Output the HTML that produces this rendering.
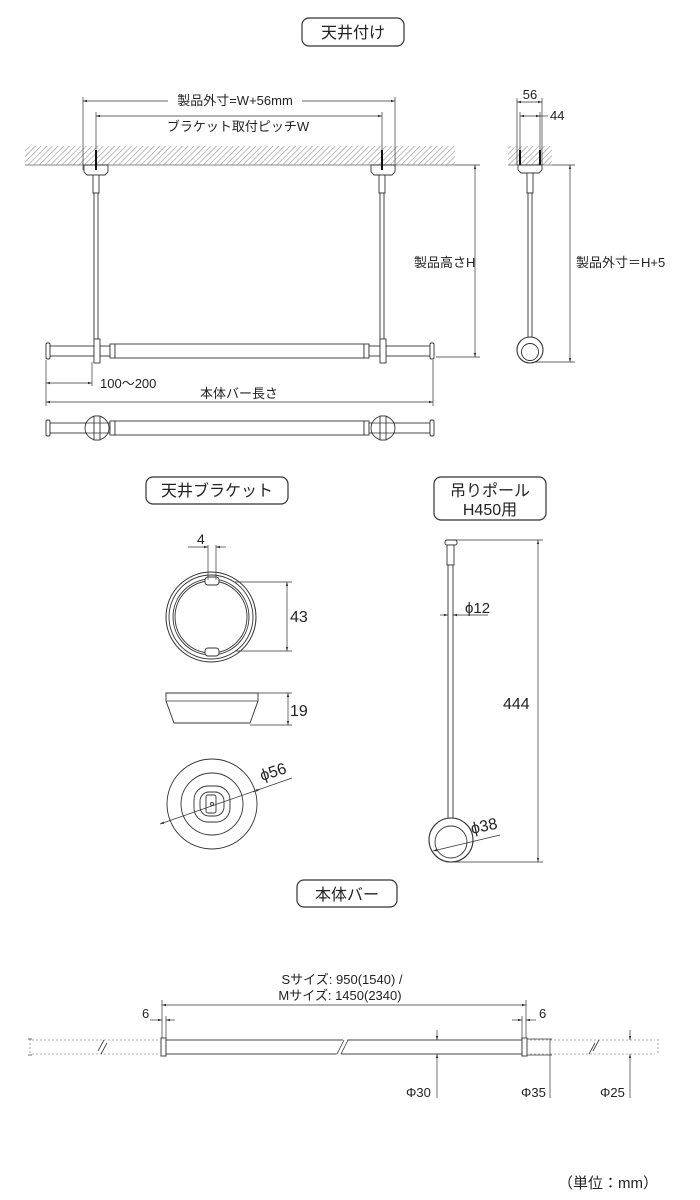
<!DOCTYPE html>
<html><head><meta charset="utf-8"><style>
html,body{margin:0;padding:0;background:#fff;}
svg{display:block;}
text{font-family:"Liberation Sans","Noto Sans CJK JP",sans-serif;fill:#222;}
</style></head><body>
<svg width="700" height="1200" viewBox="0 0 700 1200" xmlns="http://www.w3.org/2000/svg">
<defs>
<pattern id="h" width="4" height="4" patternUnits="userSpaceOnUse" patternTransform="rotate(45)">
<rect width="4" height="4" fill="#fff"/><line x1="0" y1="0" x2="0" y2="4" stroke="#999" stroke-width="1.3"/>
</pattern>
<marker id="a" viewBox="0 0 10 10" refX="10" refY="5" markerWidth="6" markerHeight="6" orient="auto-start-reverse"><path d="M0,2 L10,5 L0,8 z" fill="#333"/></marker>
<g id="bar">
 <rect x="46" y="343" width="4" height="16" rx="1.5" fill="#fff" stroke="#333"/>
 <rect x="50" y="346" width="44" height="10" fill="#fff" stroke="#333" stroke-width="0.9"/>
 <rect x="100" y="346" width="10" height="10" fill="#fff" stroke="#333" stroke-width="0.9"/>
 <rect x="110" y="344" width="5" height="14" fill="#fff" stroke="#333" stroke-width="0.9"/>
 <rect x="115" y="344" width="249" height="14" fill="#fff" stroke="#333" stroke-width="0.9"/>
 <rect x="364" y="344" width="5" height="14" fill="#fff" stroke="#333" stroke-width="0.9"/>
 <rect x="369" y="346" width="11" height="10" fill="#fff" stroke="#333" stroke-width="0.9"/>
 <rect x="386" y="346" width="44" height="10" fill="#fff" stroke="#333" stroke-width="0.9"/>
 <rect x="430" y="343" width="4" height="16" rx="1.5" fill="#fff" stroke="#333"/>
</g>
</defs>
<g fill="none" stroke="#333" stroke-width="0.9">

<rect x="302" y="18" width="102" height="28" rx="7" stroke-width="1.2"/>
<rect x="146" y="477" width="142" height="27" rx="7" stroke-width="1.2"/>
<rect x="434" y="477" width="112" height="43" rx="7" stroke-width="1.2"/>
<rect x="297" y="880" width="100" height="27" rx="7" stroke-width="1.2"/>

<rect x="25" y="146" width="430" height="19" fill="url(#h)" stroke="none"/>
<line x1="25" y1="165" x2="455" y2="165" stroke="#888"/>
<rect x="508" y="146" width="44" height="19" fill="url(#h)" stroke="none"/>
<line x1="508" y1="165" x2="552" y2="165" stroke="#888"/>

<line x1="83" y1="97" x2="83" y2="170" stroke-width="0.7"/>
<line x1="395" y1="97" x2="395" y2="170" stroke-width="0.7"/>
<line x1="96" y1="112" x2="96" y2="165" stroke-width="0.7"/>
<line x1="382" y1="112" x2="382" y2="165" stroke-width="0.7"/>
<line x1="83" y1="101" x2="168" y2="101" marker-start="url(#a)" stroke-width="0.7"/>
<line x1="302" y1="101" x2="395" y2="101" marker-end="url(#a)" stroke-width="0.7"/>
<line x1="96" y1="116" x2="382" y2="116" marker-start="url(#a)" marker-end="url(#a)" stroke-width="0.7"/>

<g fill="#fff">
<path d="M84,165 L108,165 L108,172 L105,175 L87,175 L84,172 Z"/>
<path d="M371,165 L395,165 L395,172 L392,175 L374,175 L371,172 Z"/>
<line x1="96" y1="150" x2="96" y2="170" stroke="#111" stroke-width="2"/>
<line x1="382" y1="150" x2="382" y2="170" stroke="#111" stroke-width="2"/>
<rect x="93" y="175" width="6" height="18"/>
<rect x="94" y="193" width="4" height="150"/>
<rect x="379" y="175" width="6" height="18"/>
<rect x="380" y="193" width="4" height="150"/>
</g>
<use href="#bar"/>
<rect x="94" y="339" width="6" height="24" fill="#fff"/>
<rect x="380" y="339" width="6" height="24" fill="#fff"/>

<line x1="455" y1="165" x2="480" y2="165" stroke-width="0.7"/>
<line x1="436" y1="357" x2="480" y2="357" stroke-width="0.7"/>
<line x1="475" y1="165" x2="475" y2="357" marker-start="url(#a)" marker-end="url(#a)" stroke-width="0.7"/>

<line x1="46" y1="360" x2="46" y2="406" stroke-width="0.7"/>
<line x1="92" y1="362" x2="92" y2="386" stroke-width="0.7"/>
<line x1="433" y1="360" x2="433" y2="406" stroke-width="0.7"/>
<line x1="46" y1="383" x2="92" y2="383" marker-start="url(#a)" marker-end="url(#a)" stroke-width="0.7"/>
<line x1="46" y1="402" x2="433" y2="402" marker-start="url(#a)" marker-end="url(#a)" stroke-width="0.7"/>

<use href="#bar" transform="translate(0,77)"/>
<circle cx="97" cy="428" r="12" fill="#fff"/>
<circle cx="383" cy="428" r="12" fill="#fff"/>
<rect x="94" y="416" width="6" height="24" fill="#fff"/>
<rect x="380" y="416" width="6" height="24" fill="#fff"/>
<line x1="85" y1="423" x2="109" y2="423" stroke-width="0.7"/>
<line x1="85" y1="433" x2="109" y2="433" stroke-width="0.7"/>
<line x1="371" y1="423" x2="395" y2="423" stroke-width="0.7"/>
<line x1="371" y1="433" x2="395" y2="433" stroke-width="0.7"/>

<line x1="517" y1="98" x2="517" y2="165" stroke-width="0.7"/>
<line x1="542" y1="98" x2="542" y2="165" stroke-width="0.7"/>
<line x1="520" y1="112" x2="520" y2="165" stroke-width="0.7"/>
<line x1="540" y1="112" x2="540" y2="165" stroke-width="0.7"/>
<line x1="517" y1="102" x2="542" y2="102" marker-start="url(#a)" marker-end="url(#a)" stroke-width="0.7"/>
<line x1="520" y1="116" x2="540" y2="116" marker-start="url(#a)" marker-end="url(#a)" stroke-width="0.7"/>
<line x1="540" y1="116" x2="548" y2="116" stroke-width="0.7"/>
<line x1="520" y1="150" x2="520" y2="165" stroke="#111" stroke-width="2"/>
<line x1="540" y1="150" x2="540" y2="165" stroke="#111" stroke-width="2"/>
<path d="M518,165 L542,165 L542,170 L539,173 L521,173 L518,170 Z" fill="#fff"/>
<rect x="527" y="173" width="6" height="20" fill="#fff"/>
<rect x="528" y="193" width="4" height="146" fill="#fff"/>
<circle cx="530" cy="350" r="13" fill="#fff" stroke-width="1.1"/>
<circle cx="530" cy="352" r="8.5" fill="#fff"/>
<line x1="552" y1="165" x2="575" y2="165" stroke-width="0.7"/>
<line x1="535" y1="362" x2="575" y2="362" stroke-width="0.7"/>
<line x1="570" y1="165" x2="570" y2="362" marker-start="url(#a)" marker-end="url(#a)" stroke-width="0.7"/>

<circle cx="211" cy="617" r="45" stroke-width="1"/>
<circle cx="211" cy="617" r="42"/>
<circle cx="211" cy="617" r="38"/>
<circle cx="211" cy="617" r="36"/>
<rect x="205" y="577" width="14" height="8" rx="3" fill="#fff"/>
<rect x="205" y="648" width="14" height="8" rx="3" fill="#fff"/>
<line x1="208" y1="545" x2="208" y2="580" stroke-width="0.7"/>
<line x1="216" y1="545" x2="216" y2="580" stroke-width="0.7"/>
<line x1="188" y1="547" x2="208" y2="547" marker-end="url(#a)" stroke-width="0.7"/>
<line x1="226" y1="547" x2="216" y2="547" marker-end="url(#a)" stroke-width="0.7"/>
<line x1="235" y1="582" x2="292" y2="582" stroke-width="0.7"/>
<line x1="235" y1="651" x2="292" y2="651" stroke-width="0.7"/>
<line x1="287" y1="582" x2="287" y2="651" marker-start="url(#a)" marker-end="url(#a)" stroke-width="0.7"/>

<path d="M166,693 L258,693 L258,701 L250,723 L174,723 L166,701 Z" fill="#fff"/>
<line x1="166" y1="701" x2="258" y2="701" stroke-width="0.7"/>
<line x1="258" y1="693" x2="292" y2="693" stroke-width="0.7"/>
<line x1="250" y1="725" x2="292" y2="725" stroke-width="0.7"/>
<line x1="288" y1="693" x2="288" y2="725" marker-start="url(#a)" marker-end="url(#a)" stroke-width="0.7"/>

<circle cx="212" cy="804" r="45"/>
<circle cx="212" cy="804" r="31"/>
<rect x="194" y="786" width="36" height="36" rx="14"/>
<rect x="200" y="792" width="24" height="24" rx="9"/>
<rect x="206" y="795" width="10" height="18" rx="2"/>
<circle cx="212" cy="804" r="1.5"/>
<line x1="160" y1="824" x2="292" y2="778" marker-start="url(#a)" stroke-width="0.7"/>
<path d="M253,792 L260,789" marker-end="url(#a)" stroke-width="0.7"/>

<rect x="445" y="540" width="12" height="5" rx="2" fill="#fff"/>
<rect x="447" y="545" width="7" height="20" fill="#fff"/>
<rect x="448" y="565" width="5" height="255" fill="#fff"/>
<circle cx="451" cy="840" r="22" fill="#fff" stroke-width="1.1"/>
<circle cx="451" cy="842" r="16" fill="#fff"/>
<line x1="440" y1="615" x2="448" y2="615" marker-end="url(#a)" stroke-width="0.7"/>
<line x1="453" y1="615" x2="488" y2="615" marker-start="url(#a)" stroke-width="0.7"/>
<line x1="455" y1="540" x2="543" y2="540" stroke-width="0.7"/>
<line x1="455" y1="862" x2="543" y2="862" stroke-width="0.7"/>
<line x1="538" y1="540" x2="538" y2="862" marker-start="url(#a)" marker-end="url(#a)" stroke-width="0.7"/>
<line x1="433" y1="851" x2="500" y2="835" marker-start="url(#a)" stroke-width="0.7"/>

<g stroke-dasharray="2,2" stroke-width="0.6" stroke="#666">
<line x1="32" y1="1040" x2="160" y2="1040"/>
<line x1="32" y1="1054" x2="160" y2="1054"/>
<line x1="530" y1="1040" x2="655" y2="1040"/>
<line x1="530" y1="1054" x2="655" y2="1054"/>
<line x1="30" y1="1039" x2="30" y2="1055"/>
<line x1="658" y1="1039" x2="658" y2="1055"/>
</g>
<line x1="28" y1="1039" x2="32" y2="1039" stroke-width="0.7"/>
<line x1="28" y1="1055" x2="32" y2="1055" stroke-width="0.7"/>
<rect x="161" y="1038" width="5" height="18" fill="#fff"/>
<rect x="166" y="1040" width="356" height="14" fill="#fff"/>
<rect x="522" y="1038" width="5" height="18" fill="#fff"/>
<line x1="98" y1="1051" x2="104" y2="1040" stroke-width="0.8"/>
<line x1="101" y1="1054" x2="107" y2="1043" stroke-width="0.8"/>
<line x1="338" y1="1056" x2="346" y2="1038" stroke="#fff" stroke-width="4"/>
<line x1="337" y1="1054" x2="344" y2="1040" stroke-width="0.8"/>
<line x1="341" y1="1054" x2="348" y2="1040" stroke-width="0.8"/>
<line x1="589" y1="1054" x2="595" y2="1043" stroke-width="0.8"/>
<line x1="593" y1="1051" x2="599" y2="1040" stroke-width="0.8"/>

<line x1="162" y1="1000" x2="162" y2="1038" stroke-width="0.7"/>
<line x1="526" y1="1000" x2="526" y2="1038" stroke-width="0.7"/>
<line x1="166" y1="1016" x2="166" y2="1038" stroke-width="0.7"/>
<line x1="522" y1="1016" x2="522" y2="1038" stroke-width="0.7"/>
<line x1="162" y1="1005" x2="526" y2="1005" marker-start="url(#a)" marker-end="url(#a)" stroke-width="0.7"/>
<line x1="150" y1="1020" x2="162" y2="1020" marker-end="url(#a)" stroke-width="0.7"/>
<line x1="175" y1="1020" x2="166" y2="1020" marker-end="url(#a)" stroke-width="0.7"/>
<line x1="512" y1="1020" x2="522" y2="1020" marker-end="url(#a)" stroke-width="0.7"/>
<line x1="536" y1="1020" x2="526" y2="1020" marker-end="url(#a)" stroke-width="0.7"/>

<line x1="437" y1="1030" x2="437" y2="1040" marker-end="url(#a)" stroke-width="0.7"/>
<line x1="437" y1="1064" x2="437" y2="1054" marker-end="url(#a)" stroke-width="0.7"/>
<line x1="437" y1="1064" x2="437" y2="1098" stroke-width="0.7"/>
<line x1="527" y1="1039" x2="552" y2="1039" stroke-width="0.7"/>
<line x1="527" y1="1055" x2="552" y2="1055" stroke-width="0.7"/>
<line x1="550" y1="1039" x2="550" y2="1098" stroke-width="0.7"/>
<line x1="630" y1="1030" x2="630" y2="1040" marker-end="url(#a)" stroke-width="0.7"/>
<line x1="630" y1="1064" x2="630" y2="1054" marker-end="url(#a)" stroke-width="0.7"/>
<line x1="630" y1="1064" x2="630" y2="1098" stroke-width="0.7"/>
</g>

<g font-size="13">
<text x="353" y="38" font-size="16" text-anchor="middle">天井付け</text>
<text x="235" y="105" text-anchor="middle">製品外寸=W+56mm</text>
<text x="238" y="131" text-anchor="middle">ブラケット取付ピッチW</text>
<text x="414" y="267">製品高さH</text>
<text x="100" y="388">100〜200</text>
<text x="239" y="398" text-anchor="middle">本体バー長さ</text>
<text x="530" y="99" text-anchor="middle">56</text>
<text x="550" y="120">44</text>
<text x="576" y="267">製品外寸＝H+5</text>
<text x="217" y="496" font-size="16" text-anchor="middle">天井ブラケット</text>
<text x="490" y="496" font-size="16" text-anchor="middle">吊りポール</text>
<text x="490" y="515" font-size="16" text-anchor="middle">H450用</text>
<text x="197" y="544" font-size="14">4</text>
<text x="290" y="622" font-size="16">43</text>
<text x="290" y="716" font-size="16">19</text>
<text x="262" y="781" font-size="16" transform="rotate(-18 262 781)">ϕ56</text>
<text x="465" y="613" font-size="15">ϕ12</text>
<text x="503" y="709" font-size="16">444</text>
<text x="472" y="834" font-size="16" transform="rotate(-12 472 834)">ϕ38</text>
<text x="347" y="900" font-size="16" text-anchor="middle">本体バー</text>
<text x="342" y="984" text-anchor="middle">Sサイズ: 950(1540) /</text>
<text x="340" y="1000" text-anchor="middle">Mサイズ: 1450(2340)</text>
<text x="142" y="1018">6</text>
<text x="539" y="1018">6</text>
<text x="406" y="1097">Φ30</text>
<text x="521" y="1097">Φ35</text>
<text x="600" y="1097">Φ25</text>
<text x="558" y="1188" font-size="15">（単位：mm）</text>
</g>
</svg>
</body></html>
